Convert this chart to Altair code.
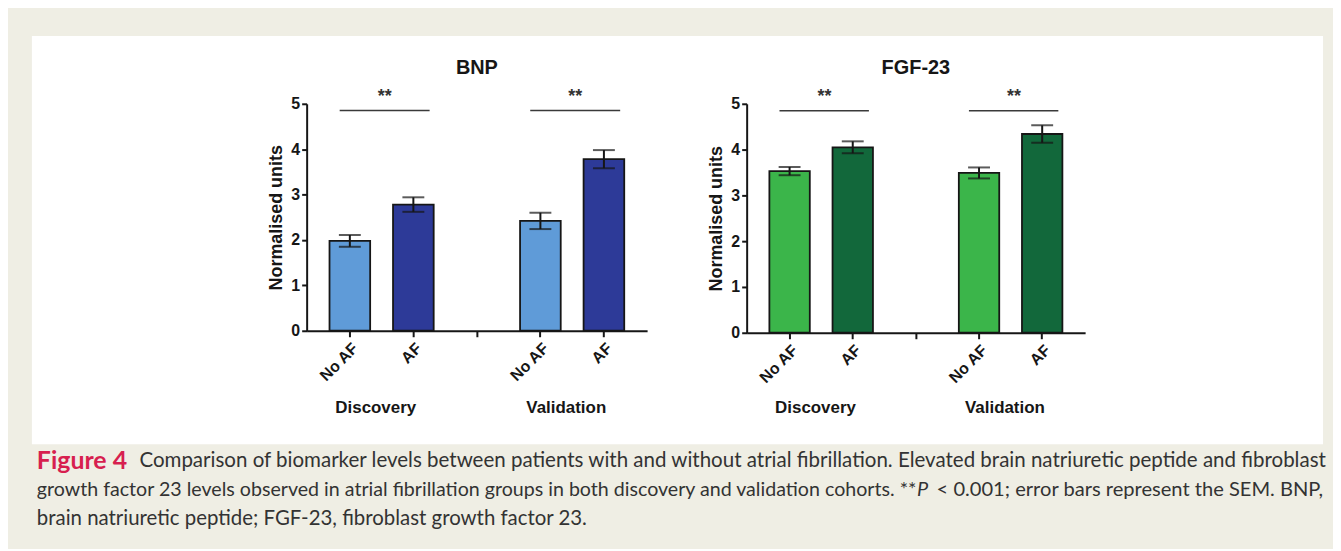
import altair as alt
import pandas as pd

# ---------------- data ----------------
groups = ["Discovery", "Discovery", "Validation", "Validation"]
status = ["No AF", "AF", "No AF", "AF"]
bnp_mean = [1.98, 2.78, 2.42, 3.78]
bnp_sem = [0.13, 0.16, 0.18, 0.20]
fgf_mean = [3.53, 4.05, 3.49, 4.34]
fgf_sem = [0.09, 0.13, 0.12, 0.19]
x_domain = ["D|No AF", "D|AF", "gap", "V|No AF", "V|AF"]
y_ticks = [0, 1, 2, 3, 4, 5]
sig_level = 4.85
star_level = 5.15
group_labels = ["Discovery", "Validation"]
panel_titles = ["BNP", "FGF-23"]
bnp_colors = ["#5f9bd8", "#2d3a98"]
fgf_colors = ["#3bb54a", "#12683b"]

caption_fig = "Figure 4"
caption_l1 = ("Comparison of biomarker levels between patients with and without atrial "
              "fibrillation. Elevated brain natriuretic peptide and fibroblast")
caption_l2a = ("growth factor 23 levels observed in atrial fibrillation groups in both discovery "
               "and validation cohorts. **")
caption_l2b = "P"
caption_l2c = "< 0.001; error bars represent the SEM. BNP,"
caption_l3 = "brain natriuretic peptide; FGF-23, fibroblast growth factor 23."

FONT = "Liberation Sans"
INK = "#161616"


def panel(title, means, sems, colors, xr, yr):
    cats = [g[0] + "|" + s for g, s in zip(groups, status)]
    df = pd.DataFrame({
        "cat": cats,
        "status": status,
        "mean": means,
        "lo": [m - s for m, s in zip(means, sems)],
        "hi": [m + s for m, s in zip(means, sems)],
    })
    xsc = alt.Scale(domain=x_domain, range=xr, paddingInner=0.36, paddingOuter=0.36)
    ysc = alt.Scale(domain=[0, 5], range=yr, nice=False)
    xaxis = alt.Axis(
        orient="bottom", offset=-(410 - yr[0]), title=None,
        labelExpr="indexof(datum.value, '|') >= 0 ? split(datum.value, '|')[1] : ''",
        labelAngle=-45, labelFont=FONT, labelFontWeight="bold", labelFontSize=16,
        labelColor=INK, labelPadding=3, tickSize=6, tickWidth=2, tickColor=INK,
        domainWidth=2, domainColor=INK, grid=False,
    )
    yaxis = alt.Axis(
        orient="left", offset=-xr[0], values=y_ticks, format="d",
        title="Normalised units", titleFont=FONT, titleFontWeight="bold",
        titleFontSize=18, titleColor=INK, titlePadding=5,
        labelFont=FONT, labelFontWeight="bold", labelFontSize=16, labelColor=INK,
        labelPadding=2, tickSize=5, tickWidth=2, tickColor=INK,
        domainWidth=2, domainColor=INK, grid=False,
    )
    base = alt.Chart(df)
    bars = base.mark_bar(stroke=INK, strokeWidth=1.8).encode(
        x=alt.X("cat:N", scale=xsc, axis=xaxis),
        y=alt.Y("mean:Q", scale=ysc, axis=yaxis),
        color=alt.Color("status:N", scale=alt.Scale(domain=["No AF", "AF"], range=colors), legend=None),
    )
    err = base.mark_rule(color=INK, strokeWidth=2).encode(
        x=alt.X("cat:N", axis=xaxis), y=alt.Y("lo:Q", axis=yaxis), y2="hi:Q"
    )
    cap_lo = base.mark_tick(color=INK, size=22, thickness=2).encode(
        x=alt.X("cat:N", axis=xaxis), y=alt.Y("lo:Q", axis=yaxis)
    )
    cap_hi = base.mark_tick(color=INK, size=22, thickness=2).encode(
        x=alt.X("cat:N", axis=xaxis), y=alt.Y("hi:Q", axis=yaxis)
    )
    sig_df = pd.DataFrame({
        "a": ["D|No AF", "V|No AF"], "b": ["D|AF", "V|AF"],
        "sy": [sig_level, sig_level], "ty": [star_level, star_level],
        "star": ["**", "**"], "grp": group_labels,
    })
    sbase = alt.Chart(sig_df)
    sig = sbase.mark_rule(color="#3a3a3a", strokeWidth=1.5).encode(
        x=alt.X("a:N", bandPosition=0.25, axis=xaxis),
        x2=alt.X2("b", bandPosition=0.9),
        y=alt.Y("sy:Q", axis=yaxis),
    )
    stars = sbase.mark_text(font=FONT, fontWeight="bold", fontSize=18, color="#333", dx=35, baseline="middle").encode(
        x=alt.X("a:N", axis=xaxis), y=alt.Y("ty:Q", axis=yaxis), text="star:N"
    )
    glab = sbase.mark_text(font=FONT, fontWeight="bold", fontSize=17, color=INK, dx=26, baseline="middle").encode(
        x=alt.X("a:N", axis=xaxis), y=alt.value(374), text="grp:N"
    )
    tdf = pd.DataFrame({"cat": ["gap"], "t": [title]})
    ttl = alt.Chart(tdf).mark_text(font=FONT, fontWeight="bold", fontSize=20, color=INK, baseline="middle").encode(
        x=alt.X("cat:N", axis=xaxis), y=alt.value(32), text="t:N"
    )
    return alt.layer(bars, err, cap_lo, cap_hi, sig, stars, glab, ttl)


bnp = panel(panel_titles[0], bnp_mean, bnp_sem, bnp_colors, [276, 618], [296, 68])
fgf = panel(panel_titles[1], fgf_mean, fgf_sem, fgf_colors, [718, 1058], [298, 68])

CAP_FONT = "Lato"
CAP_COLOR = "#333333"
cap_df = pd.DataFrame({
    "fig": [caption_fig], "l1": [caption_l1], "l2a": [caption_l2a],
    "l2b": [caption_l2b], "l2c": [caption_l2c], "l3": [caption_l3],
})
cbase = alt.Chart(cap_df)


def cap(field, x, y, size, align="left", **kw):
    return cbase.mark_text(font=CAP_FONT, fontSize=size, color=kw.pop("color", CAP_COLOR),
                           align=align, baseline="middle", **kw).encode(
        x=alt.value(x), y=alt.value(y), text=f"{field}:N")


c_fig = cap("fig", 5, 427, 25, fontWeight="bold", color="#d71f4f")
c1 = cap("l1", 108, 427, 20.6)
c2a = cap("l2a", 5, 456, 19.7)
c2b = cap("l2b", 889, 456, 20, fontStyle="italic")
c2c = cap("l2c", 1297, 456, 20.2, align="right")
c3 = cap("l3", 5, 485, 20.5)

chart = alt.layer(bnp, fgf, c_fig, c1, c2a, c2b, c2c, c3).resolve_scale(
    x="independent", y="independent", color="independent"
).resolve_axis(
    x="independent", y="independent"
).properties(
    width=1297, height=410,
    padding={"left": 24, "top": 27, "right": 10, "bottom": 104},
    autosize=alt.AutoSizeParams(type="none"),
    background="#efeee4",
).configure_view(fill="white", stroke=None)

chart.save("out.html", embed_options={"renderer": "svg", "actions": False})
